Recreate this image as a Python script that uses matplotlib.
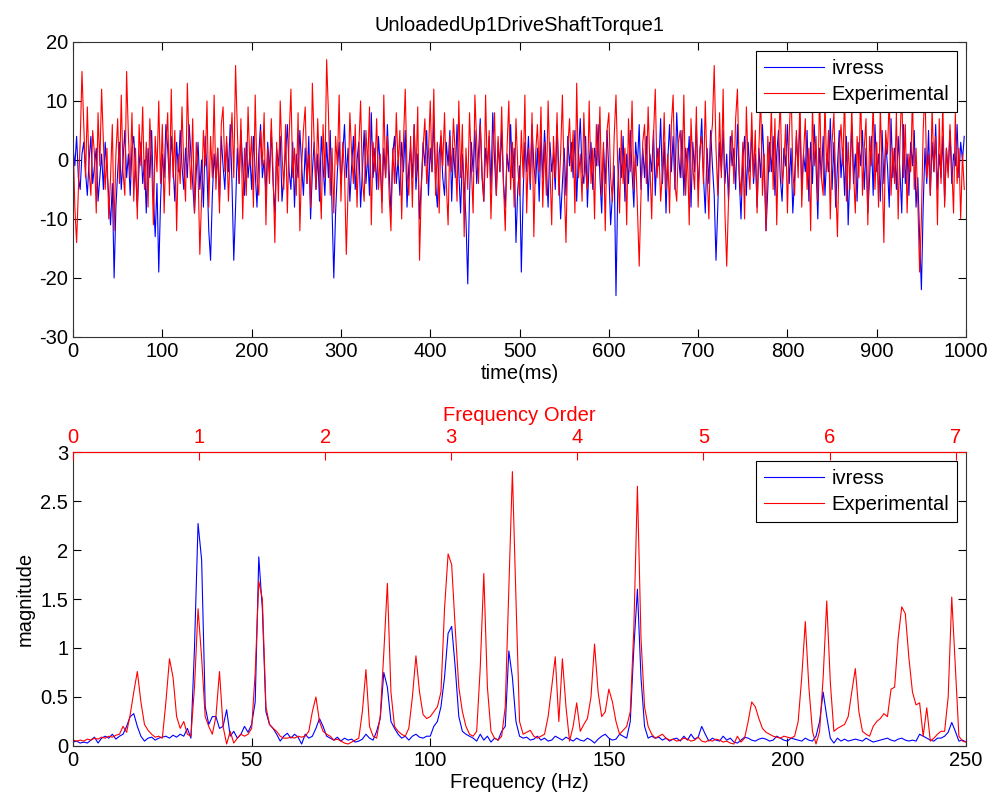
import matplotlib
matplotlib.use('Agg')

import matplotlib.pyplot as plt
import numpy as np
from matplotlib.ticker import FuncFormatter

plt.rcParams['font.family'] = ['Liberation Sans', 'DejaVu Sans']
plt.rcParams['font.size'] = 14.5
plt.rcParams['axes.unicode_minus'] = False

# -----------------------------
# DATA
# -----------------------------
title = "UnloadedUp1DriveShaftTorque1"

# time signal, one value every 2 ms
t_step_ms = 2
ivress_torque = [
    2, -1, 4, -3, -5, 1, 3, -2, -6, 0,
    4, -4, -1, 2, -7, -3, 1, -5, 3, -2,
    -6, -11, -4, -20, -8, -2, 3, -5, 0, 5,
    -3, 1, -6, 2, 4, -2, -8, -1, 3, -4,
    0, -9, 2, -3, 5, -6, -13, -4, -19, -7,
    1, -3, 6, 2, -4, 4, -1, -7, 3, -2,
    5, -1, -5, 2, -3, 6, 1, -4, -9, -2,
    3, -5, 0, -8, 4, -2, -12, -17, -6, 1,
    -3, 2, -7, 4, -1, -5, 3, -2, 6, -4,
    -17, -8, 2, -4, 5, -1, -6, 3, -3, 1,
    -5, 4, -2, -8, 1, 6, -3, 0, -6, 3,
    -2, 5, -4, -9, 2, -1, 4, -7, -3, 1,
    6, -2, -5, 3, -8, 1, -3, 5, -1, -6,
    2, -4, 4, -10, -2, 3, -5, 1, -7, 4,
    -1, -6, 3, -3, 5, -8, -20, -9, -2, 3,
    -4, 1, 6, -3, 2, -7, -1, 4, -5, 0,
    3, -8, -2, 5, -4, 1, -6, 8, -3, 2,
    -5, 4, -1, -7, 2, -3, 6, -2, -9, 1,
    4, -4, 0, -6, 3, -2, 5, -8, -1, 2,
    -3, 6, -5, 1, -10, -4, 3, -1, 5, -6,
    2, -2, 7, -4, -8, 1, 4, -3, -6, 3,
    -1, 5, -7, 2, -3, 6, -2, -9, 1, -4,
    -10, -21, -6, 3, -2, 5, -4, 1, 7, -3,
    -7, 2, -1, 4, -5, 8, 0, -6, 3, -2,
    5, -4, -8, 1, -2, 6, -3, 2, -14, -5,
    -1, -19, -6, 3, -2, 4, -5, 6, -1, -4,
    2, -7, 4, -3, 5, -1, -8, 3, -2, 1,
    -5, 6, -2, -10, -4, 2, -6, 4, -1, 3,
    -3, 5, -7, 1, 7, -2, -4, 4, -8, 0,
    3, -5, 2, -1, 6, -3, -9, 2, -4, 5,
    -2, -11, -6, -1, -23, -5, 2, -3, 4, -7,
    1, -4, 5, -2, -8, 3, -1, 6, -5, 2,
    -3, 4, -7, 1, -2, 5, -6, 2, -1, 7,
    -4, 3, -9, 0, 6, -2, 4, -5, 8, 1,
    -3, 5, -6, 2, -1, 4, -8, 3, -2, 6,
    -5, 1, 7, -3, -9, 2, -4, 5, -1, -6,
    -17, -8, 3, -2, 5, -4, 1, -7, 4, -1,
    2, -5, 6, -3, -10, 0, 4, -6, 3, -2,
    5, -4, 1, -8, 2, -3, 6, -1, -12, -5,
    3, -2, 4, -6, 1, 5, -3, -7, 2, -1,
    6, -4, 2, -9, -3, 4, -1, 7, -5, 1,
    -2, 5, -7, 3, -4, 6, -1, -10, 2, -3,
    4, -6, 1, -2, 7, -5, 3, -8, -1, 5,
    -3, 2, -6, 4, -11, -2, 6, -4, 1, -7,
    3, -1, 5, -5, 2, -9, -3, 4, -6, 6,
    -2, 1, -7, 5, -4, 3, -1, -8, 7, -3,
    2, -5, 4, -2, -9, 6, -4, 1, -6, 3,
    -1, 5, -8, -3, -13, -22, -8, 2, -4, 5,
    -6, 3, -2, 6, -5, 1, -3, 4, -7, 2,
    -2, 5, -4, 1, -1, 6, -3, 3, 0, 4,
]
experimental_torque = [
    4, -8, -14, -5, 3, 15, 6, -3, 9, -2,
    -6, 5, 1, -9, 8, -1, 12, 3, -5, 2,
    -10, -3, 6, -12, 1, 7, -4, 11, -2, -6,
    15, 4, -3, 8, -7, 2, -10, 6, -1, 9,
    -5, 3, -8, 7, 0, -11, 4, -2, 10, -4,
    6, -9, 2, 8, -6, 12, -3, 5, -12, 1,
    -4, 9, -1, -7, 13, 2, -5, 7, -9, 3,
    -2, -16, -6, 5, -1, 10, -8, 4, -3, 11,
    -5, 2, -9, 6, 9, -2, 4, -7, 1, 8,
    -3, 16, 5, -4, 7, -10, 2, -6, 9, -1,
    4, -8, 11, -3, -6, 5, -1, 8, -11, 2,
    -4, 7, -2, -14, 3, -7, 10, 1, -5, 6,
    -9, 4, 12, -3, 2, -6, 8, -12, -1, 5,
    9, -4, 1, -8, 13, 3, -5, 7, -2, -10,
    6, -3, 17, 8, -6, 2, -9, 4, -1, 11,
    -7, 3, -2, -16, -5, 8, 1, -4, 6, -8,
    2, 10, -3, -7, 5, -1, 9, -11, 3, -2,
    7, -5, 1, -9, 11, -3, 4, -6, -12, 2,
    -4, 8, -1, 5, -10, 3, 12, -2, -6, 4,
    -8, 6, -3, 9, -17, -5, 2, 7, -4, 1,
    10, -2, 12, -6, 3, -9, 5, -1, 8, -4,
    -11, 4, -2, 7, 1, -7, 10, -3, 6, -13,
    2, -5, 8, -1, -9, 11, 3, -4, 6, -2,
    -7, 11, -3, 5, -10, 1, 8, -6, 4, -2,
    9, -4, -12, 2, 10, -5, 3, -8, 7, -1,
    -6, 5, -3, 11, -9, 2, -4, 8, -13, 1,
    6, -2, 9, -8, 3, -6, 10, -1, -11, 4,
    -3, 8, -6, 1, 11, -4, -14, 2, 7, -2,
    5, -9, 13, -3, 1, -7, 8, -2, -5, 10,
    -4, 2, -10, 6, -1, 9, -6, 3, -12, 5,
    8, -3, -7, 4, 11, -1, -9, 5, -4, 2,
    -11, 7, -2, 10, -5, 1, -8, -18, -6, 3,
    6, -4, 9, -1, -10, 4, 12, -3, 2, -7,
    -2, 8, -5, 1, -9, 6, 11, -4, -7, 3,
    5, -3, 11, -6, 2, -11, 7, -1, -5, 9,
    -8, 2, 4, -4, 10, -2, -10, 3, 6, 16,
    2, -6, 8, -3, 12, -9, -18, -7, 1, 5,
    -4, 7, 12, -2, -6, 3, -10, 9, -1, -5,
    8, -3, 5, -9, 2, 11, -6, 1, -12, 4,
    -2, 9, -5, 7, -11, 3, 10, -4, -1, 6,
    -9, 4, 13, -2, -6, 5, -3, 11, -8, 1,
    7, -5, 2, -12, 9, -1, 4, -7, 12, -3,
    -6, 10, -2, 5, -10, 3, 8, -4, -13, 2,
    6, -1, 11, -7, 3, -5, 9, -2, -9, 4,
    -3, 12, -6, 2, 7, -11, 4, -1, 10, -5,
    3, -8, 9, -2, -14, 5, 1, 11, -6, 2,
    -4, 8, -10, 3, 12, -3, 6, -9, 1, -2,
    11, -5, 2, -7, -19, -10, 5, 12, -3, 1,
    -6, 9, -2, 4, -11, 7, -4, 10, -8, 2,
    -3, 6, -1, -9, 8, -4, 2, -10, 1, -5,
]

# spectrum, one value per Hz from 0 to 250
ivress_mag = [
    0.04, 0.05, 0.03, 0.04, 0.03, 0.06, 0.09, 0.03, 0.08, 0.10,
    0.08, 0.12, 0.07, 0.10, 0.12, 0.20, 0.30, 0.33, 0.20, 0.10,
    0.05, 0.08, 0.09, 0.06, 0.08, 0.09, 0.10, 0.08, 0.11, 0.09,
    0.12, 0.10, 0.18, 0.08, 1.00, 2.27, 1.90, 0.40, 0.22, 0.30,
    0.30, 0.18, 0.20, 0.37, 0.10, 0.15, 0.08, 0.12, 0.20, 0.14,
    0.22, 0.45, 1.93, 1.40, 0.35, 0.22, 0.18, 0.12, 0.05, 0.10,
    0.13, 0.08, 0.12, 0.09, 0.02, 0.12, 0.08, 0.10, 0.18, 0.28,
    0.20, 0.10, 0.08, 0.06, 0.09, 0.05, 0.08, 0.06, 0.07, 0.04,
    0.05, 0.07, 0.12, 0.08, 0.06, 0.15, 0.28, 0.75, 0.60, 0.25,
    0.18, 0.12, 0.08, 0.10, 0.06, 0.10, 0.12, 0.09, 0.08, 0.10,
    0.10, 0.20, 0.25, 0.40, 0.70, 1.15, 1.22, 0.80, 0.30, 0.15,
    0.12, 0.10, 0.08, 0.05, 0.12, 0.06, 0.10, 0.04, 0.08, 0.06,
    0.15, 0.20, 0.97, 0.70, 0.25, 0.10, 0.08, 0.09, 0.06, 0.07,
    0.10, 0.06, 0.08, 0.05, 0.06, 0.10, 0.08, 0.06, 0.09, 0.07,
    0.05, 0.08, 0.06, 0.05, 0.08, 0.06, 0.03, 0.07, 0.10, 0.12,
    0.08, 0.06, 0.07, 0.12, 0.10, 0.08, 0.25, 1.00, 1.60, 0.70,
    0.20, 0.08, 0.10, 0.08, 0.09, 0.06, 0.08, 0.05, 0.07, 0.08,
    0.05, 0.10, 0.06, 0.12, 0.07, 0.09, 0.20, 0.12, 0.05, 0.08,
    0.06, 0.05, 0.10, 0.06, 0.08, 0.04, 0.03, 0.06, 0.09, 0.08,
    0.06, 0.05, 0.07, 0.08, 0.07, 0.05, 0.06, 0.10, 0.08, 0.06,
    0.05, 0.08, 0.07, 0.06, 0.05, 0.08, 0.06, 0.05, 0.10, 0.25,
    0.55, 0.30, 0.08, 0.03, 0.08, 0.05, 0.07, 0.05, 0.06, 0.07,
    0.06, 0.05, 0.08, 0.06, 0.04, 0.05, 0.06, 0.07, 0.08, 0.06,
    0.05, 0.07, 0.08, 0.06, 0.05, 0.06, 0.05, 0.12, 0.10, 0.08,
    0.06, 0.05, 0.08, 0.08, 0.10, 0.14, 0.24, 0.15, 0.05, 0.06,
    0.04,
]
experimental_mag = [
    0.06, 0.05, 0.06, 0.05, 0.07, 0.06, 0.08, 0.07, 0.09, 0.08,
    0.10, 0.09, 0.11, 0.12, 0.20, 0.14, 0.32, 0.55, 0.76, 0.45,
    0.22, 0.16, 0.12, 0.09, 0.10, 0.08, 0.45, 0.89, 0.70, 0.30,
    0.18, 0.25, 0.12, 0.10, 0.60, 1.40, 0.90, 0.30, 0.20, 0.12,
    0.30, 0.76, 0.20, 0.02, 0.15, 0.03, 0.08, 0.12, 0.10, 0.12,
    0.18, 0.75, 1.68, 1.50, 0.40, 0.22, 0.18, 0.15, 0.10, 0.08,
    0.08, 0.09, 0.08, 0.10, 0.09, 0.10, 0.15, 0.35, 0.50, 0.25,
    0.15, 0.12, 0.10, 0.06, 0.07, 0.05, 0.03, 0.02, 0.04, 0.06,
    0.08, 0.35, 0.78, 0.20, 0.10, 0.08, 0.30, 0.95, 1.66, 0.55,
    0.20, 0.15, 0.12, 0.10, 0.18, 0.50, 0.92, 0.55, 0.32, 0.28,
    0.30, 0.35, 0.40, 0.55, 1.40, 1.96, 1.85, 1.20, 0.60, 0.35,
    0.20, 0.12, 0.10, 0.15, 0.80, 1.76, 0.60, 0.15, 0.08, 0.06,
    0.10, 0.40, 1.60, 2.80, 1.50, 0.25, 0.12, 0.14, 0.16, 0.10,
    0.08, 0.10, 0.12, 0.30, 0.60, 0.91, 0.25, 0.89, 0.40, 0.05,
    0.20, 0.44, 0.15, 0.22, 0.28, 0.50, 1.04, 0.55, 0.30, 0.35,
    0.58, 0.45, 0.25, 0.12, 0.16, 0.20, 0.35, 1.20, 2.65, 1.10,
    0.40, 0.20, 0.12, 0.08, 0.10, 0.12, 0.08, 0.06, 0.07, 0.05,
    0.06, 0.08, 0.07, 0.05, 0.06, 0.09, 0.05, 0.04, 0.06, 0.05,
    0.07, 0.06, 0.04, 0.05, 0.03, 0.02, 0.10, 0.04, 0.08, 0.25,
    0.45, 0.40, 0.28, 0.18, 0.14, 0.12, 0.10, 0.09, 0.08, 0.10,
    0.09, 0.08, 0.10, 0.25, 0.70, 1.27, 0.60, 0.15, 0.02, 0.15,
    0.70, 1.48, 0.65, 0.15, 0.18, 0.20, 0.22, 0.30, 0.55, 0.79,
    0.35, 0.15, 0.12, 0.10, 0.20, 0.25, 0.28, 0.33, 0.30, 0.58,
    0.60, 1.10, 1.42, 1.35, 0.90, 0.55, 0.42, 0.44, 0.10, 0.39,
    0.05, 0.08, 0.12, 0.15, 0.15, 0.50, 1.52, 0.80, 0.10, 0.05,
    0.04,
]

base_freq_hz = 35.3   # first order frequency
order_ticks = [0, 1, 2, 3, 4, 5, 6, 7]

t_ms = np.arange(len(ivress_torque)) * t_step_ms
freq = np.arange(len(ivress_mag))

fig = plt.figure(figsize=(9.95, 8.05), dpi=100)
spine_col = '#333333'


def matlab_style(ax):
    for s in ax.spines.values():
        s.set_color(spine_col)
        s.set_linewidth(0.8)
    ax.tick_params(direction='in', length=6, width=0.8, top=True, right=True,
                   colors='black', labelsize=14.5)


def matlab_legend(ax):
    leg = ax.legend(loc='upper right', fancybox=False, framealpha=1,
                    edgecolor='black', handlelength=3.0, handletextpad=0.35,
                    borderaxespad=0.45, labelspacing=0.35, borderpad=0.4)
    leg.get_frame().set_linewidth(0.8)


# -----------------------------
# 1. TIME SIGNAL
# -----------------------------
ax1 = fig.add_axes([0.0734, 0.5814, 0.8975, 0.3665])
ax1.plot(t_ms, ivress_torque, color='blue', lw=0.8, label='ivress')
ax1.plot(t_ms, experimental_torque, color='red', lw=0.8, label='Experimental')
ax1.set_xlim(0, 1000)
ax1.set_ylim(-30, 20)
ax1.set_xticks(np.arange(0, 1001, 100))
ax1.set_yticks(np.arange(-30, 21, 10))
ax1.set_xlabel('time(ms)', labelpad=2)
ax1.set_title(title, fontsize=14.5, pad=8)
matlab_style(ax1)
matlab_legend(ax1)

# -----------------------------
# 2. SPECTRUM
# -----------------------------
ax2 = fig.add_axes([0.0734, 0.0733, 0.8975, 0.3652])
ax2.plot(freq, ivress_mag, color='blue', lw=0.8, label='ivress')
ax2.plot(freq, experimental_mag, color='red', lw=0.8, label='Experimental')
ax2.set_xlim(0, 250)
ax2.set_ylim(0, 3)
ax2.set_xticks(np.arange(0, 251, 50))
ax2.set_yticks(np.arange(0, 3.01, 0.5))
ax2.yaxis.set_major_formatter(FuncFormatter(lambda v, p: f'{v:g}'))
ax2.set_xlabel('Frequency (Hz)', labelpad=2)
ax2.set_ylabel('magnitude')
matlab_style(ax2)
matlab_legend(ax2)

# order axis on top
ax3 = ax2.twiny()
ax3.set_xlim(0, 250 / base_freq_hz)
ax3.set_xticks(order_ticks)
ax3.set_xlabel('Frequency Order', color='red', labelpad=5)
ax3.tick_params(axis='x', direction='in', length=6, width=0.8,
                colors='red', labelsize=14.5)
ax3.spines['top'].set_color('red')
for s in ['bottom', 'left', 'right']:
    ax3.spines[s].set_visible(False)

fig.savefig('out.png', dpi=100)
